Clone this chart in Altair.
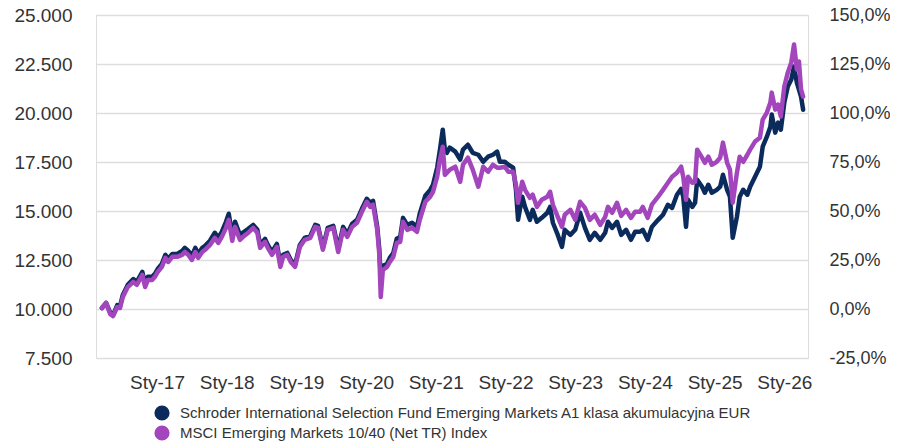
import altair as alt
import pandas as pd

years = [
    2016.21, 2016.27, 2016.33, 2016.37, 2016.43, 2016.47, 2016.51, 2016.58, 2016.66, 2016.71,
    2016.79, 2016.83, 2016.87, 2016.93, 2016.97, 2017.01, 2017.07, 2017.12, 2017.16, 2017.22,
    2017.29, 2017.36, 2017.40, 2017.45, 2017.50, 2017.55, 2017.59, 2017.65, 2017.69, 2017.76,
    2017.83, 2017.88, 2017.93, 2017.99, 2018.03, 2018.08, 2018.12, 2018.19, 2018.25, 2018.31,
    2018.38, 2018.44, 2018.48, 2018.55, 2018.59, 2018.65, 2018.72, 2018.77, 2018.81, 2018.87,
    2018.92, 2018.98, 2019.05, 2019.12, 2019.20, 2019.27, 2019.31, 2019.38, 2019.45, 2019.53,
    2019.60, 2019.67, 2019.73, 2019.80, 2019.87, 2019.94, 2020.01, 2020.06, 2020.10, 2020.16,
    2020.19, 2020.21, 2020.24, 2020.30, 2020.34, 2020.39, 2020.44, 2020.49, 2020.53, 2020.59,
    2020.66, 2020.73, 2020.77, 2020.85, 2020.92, 2020.96, 2021.02, 2021.06, 2021.10, 2021.13,
    2021.16, 2021.20, 2021.28, 2021.35, 2021.39, 2021.46, 2021.53, 2021.61, 2021.68, 2021.75,
    2021.82, 2021.88, 2021.92, 2021.99, 2022.04, 2022.11, 2022.15, 2022.18, 2022.24, 2022.28,
    2022.35, 2022.39, 2022.45, 2022.52, 2022.60, 2022.64, 2022.68, 2022.75, 2022.81, 2022.85,
    2022.93, 2023.00, 2023.07, 2023.14, 2023.21, 2023.28, 2023.36, 2023.43, 2023.47, 2023.53,
    2023.60, 2023.66, 2023.73, 2023.80, 2023.86, 2023.93, 2023.97, 2024.04, 2024.10, 2024.19,
    2024.26, 2024.33, 2024.39, 2024.46, 2024.52, 2024.55, 2024.59, 2024.62, 2024.68, 2024.72,
    2024.75, 2024.82, 2024.86, 2024.91, 2024.96, 2025.03, 2025.08, 2025.12, 2025.18, 2025.22,
    2025.26, 2025.32, 2025.36, 2025.41, 2025.47, 2025.51, 2025.58, 2025.65, 2025.69, 2025.75,
    2025.80, 2025.82, 2025.87, 2025.91, 2025.95, 2026.00, 2026.05, 2026.10, 2026.14, 2026.18,
    2026.21, 2026.24, 2026.27,
]

fund = [
    10050, 10310, 9800, 9690, 10200, 10150, 10720, 11230, 11530, 11380,
    11890, 11280, 11640, 11640, 11790, 12040, 12300, 12760, 12560, 12810,
    12810, 12960, 13120, 12960, 12710, 13120, 12810, 13120, 13220, 13480,
    13890, 13630, 13940, 14450, 14860, 13730, 14450, 13780, 13940, 14090,
    14290, 14040, 13270, 13580, 13270, 12910, 13320, 12300, 12760, 12860,
    12500, 12250, 13270, 13630, 13730, 14290, 14240, 13120, 14140, 14240,
    13070, 14190, 13830, 14350, 14550, 15110, 15620, 15420, 15520, 14190,
    13020, 11580, 12200, 12300, 12610, 12860, 13580, 13680, 14650, 14290,
    14400, 14190, 14860, 15780, 16080, 16340, 17210, 18130, 19150, 18130,
    17970, 18230, 18030, 17620, 18130, 18380, 17970, 17870, 17510, 17770,
    17870, 18030, 17510, 17510, 17360, 17210, 16080, 14550, 15730, 15210,
    14550, 15060, 14450, 14650, 14910, 15210, 14400, 13780, 13170, 14040,
    13780, 14040, 14910, 14140, 13530, 13890, 13530, 13890, 14450, 14140,
    14450, 13780, 14040, 13530, 13940, 13940, 14040, 13530, 14190, 14550,
    14810, 15320, 15160, 15830, 16130, 15730, 14190, 15570, 15210, 15420,
    16590, 16240, 15930, 16340, 15930, 16080, 16240, 16850, 16080, 15730,
    13630, 14700, 15730, 16080, 15830, 16240, 16750, 17260, 18280, 18790,
    19300, 19920, 19000, 19510, 19150, 20530, 21350, 21710, 22370, 21550,
    21200, 20840, 20170,
]

index = [
    10050, 10310, 9740, 9640, 10100, 10050, 10610, 11120, 11380, 11230,
    11740, 11120, 11480, 11480, 11640, 11890, 12150, 12610, 12400, 12660,
    12660, 12760, 12910, 12760, 12500, 12910, 12610, 12910, 13020, 13270,
    13630, 13370, 13680, 14140, 14550, 13480, 14190, 13530, 13730, 13890,
    14140, 13890, 13120, 13430, 13120, 12760, 13170, 12150, 12660, 12760,
    12400, 12150, 13170, 13530, 13630, 14190, 14140, 13020, 14040, 14140,
    12910, 14040, 13680, 14190, 14400, 14960, 15470, 15210, 15320, 14040,
    12760, 10610, 11990, 12150, 12400, 12660, 13370, 13430, 14450, 14040,
    14140, 13940, 14550, 15470, 15730, 15980, 16750, 17620, 18280, 16850,
    16950, 17110, 17260, 16490, 17360, 17720, 17110, 16240, 17260, 17000,
    17360, 17210, 17210, 17260, 17000, 17000, 16340, 15420, 16490, 16080,
    15670, 15830, 15210, 15570, 15730, 15980, 15320, 14700, 14190, 14810,
    15060, 14550, 15470, 15160, 14550, 14810, 14290, 14700, 15210, 14910,
    15420, 14750, 15060, 14650, 14960, 14960, 15210, 14650, 15320, 15730,
    16080, 16440, 16750, 16950, 17260, 16750, 15570, 16750, 16440, 16490,
    18130, 17720, 17460, 17770, 17360, 17510, 17720, 18490, 17460, 17110,
    15420, 16950, 17770, 17510, 17870, 18130, 18540, 18740, 19660, 20020,
    20530, 21040, 20170, 20430, 19820, 21350, 22060, 22580, 23500, 22220,
    22630, 21200, 20840,
]

series_names = [
    "Schroder International Selection Fund Emerging Markets A1 klasa akumulacyjna EUR",
    "MSCI Emerging Markets 10/40 (Net TR) Index",
]
colors = ["#0b2b5c", "#a346bd"]
year_ticks = [2017, 2018, 2019, 2020, 2021, 2022, 2023, 2024, 2025, 2026]
value_ticks = [7500, 10000, 12500, 15000, 17500, 20000, 22500, 25000]

df = pd.concat([
    pd.DataFrame({"year": years, "value": fund, "series": series_names[0]}),
    pd.DataFrame({"year": years, "value": index, "series": series_names[1]}),
])

FONT = "Liberation Sans"
x_dom = [2016.125, 2026.34]
y_dom = [7500, 25000]
y_scale = alt.Scale(domain=y_dom, nice=False, zero=False)

x_enc = alt.X(
    "year:Q",
    scale=alt.Scale(domain=x_dom, nice=False, zero=False),
    axis=alt.Axis(
        values=year_ticks, labelExpr="'Sty-' + substring(toString(datum.value), 2, 4)",
        grid=False, ticks=False, domain=False, labelFontSize=19, labelColor="#333333",
        labelFont=FONT, labelPadding=15, title=None, labelFlush=False,
    ),
)

color_scale = alt.Scale(domain=series_names, range=colors)

base = alt.Chart(df)

# invisible filled points that carry the legend (filled circle symbols)
legend_pts = base.mark_point(filled=True, opacity=0, size=1).encode(
    x=x_enc,
    y=alt.Y(
        "value:Q", scale=y_scale,
        axis=alt.Axis(
            values=value_ticks, labelExpr="replace(format(datum.value, ',.0f'), ',', '.')",
            grid=True, gridColor="#dedede", gridWidth=1.5, ticks=False, domain=False,
            labelFontSize=19, labelColor="#333333", labelFont=FONT, labelPadding=24, title=None,
        ),
    ),
    color=alt.Color(
        "series:N", scale=color_scale,
        legend=alt.Legend(
            title=None, orient="none", legendX=58, legendY=390, direction="vertical",
            symbolType="circle", symbolSize=230, symbolOpacity=1, symbolStrokeWidth=0,
            labelFont=FONT, labelFontSize=15, labelColor="#333333", labelLimit=800,
            rowPadding=4, labelOffset=10, padding=0,
        ),
    ),
)

navy = base.transform_filter(alt.datum.series == series_names[0]).mark_line(
    strokeWidth=4.5, strokeJoin="round", strokeCap="round"
).encode(
    x=x_enc,
    y=alt.Y("value:Q", scale=y_scale),
    color=alt.Color("series:N", scale=color_scale, legend=None),
)

purple = base.transform_filter(alt.datum.series == series_names[1]).mark_line(
    strokeWidth=4.5, strokeJoin="round", strokeCap="round"
).encode(
    x=x_enc,
    y=alt.Y("value:Q", scale=y_scale),
    color=alt.Color("series:N", scale=color_scale, legend=None),
)

main = alt.layer(legend_pts, navy, purple)

right = base.transform_filter(alt.datum.series == series_names[1]).mark_line(opacity=0).encode(
    x=x_enc,
    y=alt.Y(
        "value:Q", scale=y_scale,
        axis=alt.Axis(
            orient="right", values=value_ticks,
            labelExpr="toString((datum.value - 10000) / 100) + ',0%'",
            grid=False, ticks=False, domain=False, labelFontSize=18, labelColor="#333333",
            labelFont=FONT, labelPadding=21, title=None,
        ),
    ),
)

chart = alt.layer(main, right).resolve_scale(y="independent").properties(
    width=712, height=343,
    autosize=alt.AutoSizeParams(type="none"),
    padding={"left": 88, "top": 7, "right": 82, "bottom": 84},
).configure_view(stroke=None).configure(background="white")

chart.save("out.html", embed_options={"renderer": "svg", "actions": False})
